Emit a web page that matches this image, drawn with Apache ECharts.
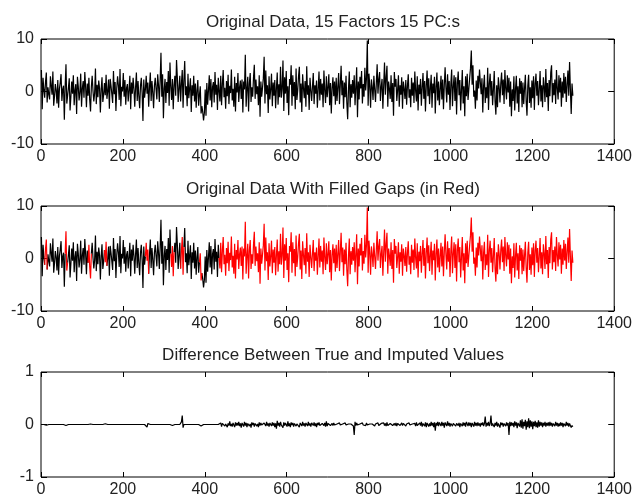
<!DOCTYPE html>
<html>
<head>
<meta charset="utf-8">
<script src="https://cdn.jsdelivr.net/npm/echarts@6/dist/echarts.min.js"></script>
<style>
  html, body { margin: 0; padding: 0; background: #fff; }
  #chart { width: 635px; height: 502px; }
</style>
</head>
<body>
<div id="chart"></div>
<script>
// sample positions: x = xStart + xStep * i
const xStart = 1
const xStep = 2

// original series
const original = [
  4.1, -3.4, 2.6, 0.3, -1.2, 1.8, 3.6, -2.1, 0.8, -0.5, -1.5, 2.9, 1.1, -0.6, 3.8, -2.7, -0.9, 1.4, 0.2, -2.3,
  2.2, -3.1, 0.5, 1.7, 3.3, -1.8, 0.4, 1.1, -5.4, 0.9, 5.2, -2.3, -0.8, 0.7, 2.5, -3.6, -1.0, 1.9, -0.4, 3.1,
  -2.6, 0.2, 1.4, -4.3, 2.8, 1.0, -1.7, -0.2, 3.4, -2.9, 0.6, 2.0, -1.2, 3.7, 0.8, -3.0, 1.5, -0.8, 2.6, -1.6,
  -3.8, 0.9, 3.0, 0.1, -1.9, -0.3, 4.4, -2.4, 1.3, -1.1, 2.1, 0.6, -4.0, 0.4, 2.7, -2.0, -0.6, 1.6, -0.7, 3.2,
  -1.4, 0.1, 2.3, -3.3, 2.4, 1.1, -0.5, -2.2, 3.9, -0.5, 1.8, -3.7, 0.6, 2.9, 1.2, -1.6, 4.3, -2.8, 0.9, 0.0,
  3.5, -1.0, 2.2, -2.5, 0.7, 1.4, -1.9, 0.3, 3.0, -3.4, 1.7, -0.4, 2.6, 0.5, -2.9, 0.8, 3.6, -1.8, 2.0, -0.9,
  -3.2, 1.1, 2.6, -0.3, -5.6, 2.3, -1.2, 0.4, 3.0, -0.4, 1.7, -2.9, 0.8, 3.6, -1.8, 2.0, -0.2, -3.2, 1.1, 2.6,
  0.5, -1.5, 3.3, 1.2, -2.0, 2.1, 7.4, -1.0, 3.3, -5.1, 0.5, 2.4, -2.2, 1.8, -0.3, 3.9, -2.7, 5.5, 0.9, -1.6,
  2.4, -3.4, 1.2, 3.0, -0.8, 6.0, 2.7, -2.0, 0.6, 3.0, -1.9, 1.5, 4.1, -3.1, 2.2, 5.8, -0.7, 1.0, -2.8, 3.4,
  -1.3, 0.6, 2.5, -3.9, 1.2, -0.8, 3.0, -1.9, 1.5, -3.1, 0.2, 2.2, -2.7, -0.7, 1.0, -4.2, -2.8, -3.9, -5.5, -4.1,
  0.4, -4.6, 1.6, -2.5, 0.2, 3.1, -1.7, 2.4, -3.0, 0.9, 1.8, -2.1, 3.7, -0.6, 1.3, -3.5, 2.6, 0.1, -1.9, 3.0,
  -2.6, 1.4, 4.1, -1.1, 0.7, -3.3, 2.0, -0.9, 3.2, -2.4, 1.1, -0.3, 4.2, -1.7, 0.5, -2.9, 2.8, -3.8, 1.6, -0.2,
  3.5, -2.0, 0.8, 2.1, -1.4, 2.3, -4.0, 1.9, 0.4, 7.0, -2.9, 0.5, 2.8, -3.8, 1.6, 3.5, -2.0, 0.8, -1.0, 2.6,
  5.1, -1.4, 2.3, -0.5, 1.0, -2.6, 3.1, -4.8, 1.9, -1.0, 0.7, 2.5, 6.6, -2.3, 4.0, -0.5, 1.2, -4.1, 2.9, -1.5,
  0.4, 3.4, -2.8, 1.7, -0.8, 2.2, -3.2, 0.6, 3.6, -2.5, 1.4, -1.1, 4.7, -1.2, 0.6, 5.9, -3.7, 2.7, -0.4, 3.9,
  -2.2, 1.0, -4.5, 2.4, 1.3, 5.0, -2.7, 3.1, -0.9, 1.8, -3.4, 4.4, -1.6, 0.2, 2.9, 4.7, -2.1, 1.5, -3.9, 3.3,
  0.7, -1.3, 2.0, -2.9, 4.8, -0.6, 1.2, -3.5, 2.6, 0.3, -1.8, 0.9, 3.5, -2.4, 1.2, -0.4, 2.1, -3.1, 0.5, 3.8,
  -1.7, 2.4, -0.6, 1.5, -3.0, 4.0, 0.2, -2.2, 2.9, -1.1, 0.8, 3.3, -2.6, 1.6, -4.2, 0.6, 2.7, -0.9, 1.9, -2.5,
  2.6, -1.8, 0.9, 3.5, -2.4, 1.2, 4.9, -0.7, 2.1, -3.3, 1.7, -1.1, 3.0, -2.2, -5.3, 0.5, 3.8, -3.0, 1.4, -1.2,
  2.2, -0.4, 3.1, -2.6, 0.8, 4.6, -4.9, 1.9, -1.5, 2.8, 0.6, 3.9, -2.3, 1.4, -1.0, 4.5, 0.2, 2.6, 9.7, -2.7,
  3.4, 1.1, -3.1, 2.3, 0.8, -1.6, 3.0, 0.4, -2.0, 1.6, 5.2, -0.4, 2.3, 3.7, -1.8, 0.9, 2.4, -3.3, 1.2, 5.5,
  -0.6, 2.7, 4.9, -2.9, 1.9, 0.5, -1.4, 3.1, -2.0, 1.6, -4.6, 3.7, 0.9, 2.4, -1.8, 0.3, 3.1, -2.9, 1.2, -0.6,
  2.7, -3.3, 1.9, 0.5, -1.4, 2.2, -2.5, 1.0, 3.3, -1.2, 0.4, -3.0, 2.6, -0.8, 1.7, -2.2, 3.8, 0.1, -1.9, 2.9,
  -3.6, 1.3, -0.5, 2.4, -2.7, 0.8, 3.5, -1.4, 2.0, -3.8, 1.1, 4.0, -0.9, 2.5, -2.4, 0.6, 3.2, -3.1, 1.5, -0.3,
  2.8, -4.2, 0.9, 3.6, -1.7, 1.9, -2.6, 0.4, 3.0, -1.5, 2.3, -3.4, 1.2, 4.6, 0.7, -2.1, 3.3, -0.6, 2.0, -3.5,
  1.4, 4.2, -2.8, 0.9, 3.1, -1.8, 2.7, -4.4, 1.6, 3.8, -0.7, 2.2, -3.6, 0.3, 4.1, -2.3, 1.0, -4.7, 2.9, -0.9,
  3.4, -1.6, 0.5, 2.6, 4.4, 7.8, 1.3, 5.0, -1.0, 0.2, -3.3, 2.1, -1.7, 3.0, 0.6, 4.2, 1.8, -0.5, 2.5, -4.0,
  1.1, 3.2, -2.2, 0.8, -1.3, 4.5, -3.5, 1.5, 3.4, -0.8, 2.0, -2.6, 0.4, 3.9, -1.9, -4.4, 1.2, -3.0, 2.7, 0.9,
  -2.1, 1.6, 3.6, -0.7, 2.3, -2.4, 4.1, 0.6, -1.5, 3.1, -0.2, 2.6, -2.9, 1.9, -4.7, 0.4, -1.8, 2.9, -3.6, 0.5,
  3.0, -2.3, 1.0, -3.9, 2.5, -0.4, 2.0, -3.0, 1.7, -2.4, 0.6, 3.2, -1.9, -4.6, 1.1, 3.2, -2.2, 0.8, -3.1, 2.1,
  -1.3, 2.9, -3.5, 1.5, 3.4, -0.8, 2.0, -2.6, 0.4, 3.9, -1.9, 1.2, -3.0, 2.7, 0.9, -2.0, 4.3, -1.1, 1.6, -3.7,
  2.2, -0.9, 3.6, 5.0, -2.1, 1.6, -0.7, 2.3, -2.4, 4.1, 0.6, -1.5, 3.1, -0.2, 2.6, -2.9, 1.9, -1.2, 3.5, -0.4,
  2.8, -2.0, 1.3, 4.0, -0.8, 5.6, 0.4, -4.3, 1.5, -0.8
]

// x ranges that were missing and got imputed (shown red)
const gapRanges = [[10, 14], [60, 64], [116, 122], [156, 160], [256, 262], [318, 324], [342, 348], [388, 392], [436, 1300]]

// true minus imputed
const difference = [
  0, 0, 0, 0, 0, 0.02, -0.015, 0, 0, 0, 0, 0, 0, 0, 0, 0, 0, 0, 0, 0,
  0, 0, 0, 0, 0, 0, 0, 0, 0, 0, -0.02, 0.01, 0, 0, 0, 0, 0, 0, 0, 0,
  0, 0, 0, 0, 0, 0, 0, 0, 0, 0, 0, 0, 0, 0, 0, 0, 0, 0, 0.015, -0.02,
  0.01, 0, 0, 0, 0, 0, 0, 0, 0, 0, 0, 0, 0, 0, 0, 0, 0, 0, 0.015, -0.02,
  0, 0, 0, 0, 0, 0, 0, 0, 0, 0, 0, 0, 0, 0, 0, 0, 0, 0, 0, 0,
  0, 0, 0, 0, 0, 0, 0, 0, 0, 0, 0, 0, 0, 0, 0, 0, 0, 0, 0, 0,
  0, 0, 0, 0, 0, 0, 0, 0, 0.03, -0.05, 0.02, 0, 0, 0, 0, 0, 0, 0, 0, 0,
  0, 0, 0, 0, 0, 0, 0, 0, 0, 0, 0, 0, 0, 0, 0, 0, 0, 0, 0, 0.02,
  -0.02, 0.01, 0, 0, 0, 0, 0, 0, 0, 0, 0, 0.05, 0.17, -0.06, 0, 0, 0, 0, 0, 0,
  0, 0, 0, 0, 0, 0, 0, 0, 0, 0, 0, 0, 0, 0, 0.02, -0.03, 0, 0, 0, 0,
  0, 0, 0, 0, 0, 0, 0, 0, 0, 0, 0, 0, 0, 0, 0, 0, 0, 0, 0.02, 0.03,
  -0.04, 0.02, -0.01, 0.05, -0.03, 0.01, 0.04, -0.05, 0.02, -0.02, 0.06, -0.03, 0.01, -0.04, 0.03, 0.00, -0.05, 0.04, -0.02, 0.03,
  -0.02, 0.05, -0.03, 0.02, -0.06, 0.03, 0.01, -0.04, 0.05, -0.02, 0.03, -0.05, 0.02, 0.04, -0.03, 0.01, -0.06, 0.04, -0.01, 0.03,
  -0.04, 0.02, 0.05, -0.03, 0.01, -0.05, 0.04, -0.02, 0.03, -0.01, 0.02, -0.04, 0.03, 0.01, -0.03, 0.05, -0.02, 0.02, -0.04, 0.03,
  0.01, -0.03, 0.04, -0.02, 0.03, -0.05, 0.02, -0.08, 0.07, -0.02, 0.03, -0.04, 0.05, -0.01, 0.02, -0.06, 0.04, -0.02, 0.03, 0.01,
  -0.04, 0.06, -0.03, 0.02, -0.05, 0.04, -0.01, 0.03, -0.04, 0.02, 0.05, -0.03, 0.01, -0.02, 0.04, -0.05, 0.03, 0.00, -0.03, 0.05,
  -0.02, 0.02, -0.04, 0.03, 0.01, -0.03, 0.05, -0.02, 0.02, -0.04, 0.03, 0.01, -0.02, 0.04, -0.03, 0.02, -0.05, 0.03, -0.01, 0.04,
  -0.02, 0.01, -0.03, 0.02, 0.04, -0.02, 0.03, -0.04, 0.06, -0.03, 0.02, -0.01, 0.03, -0.02, 0.01, 0.02, -0.02, 0.03, -0.01, 0.02,
  -0.03, 0.01, 0.02, -0.02, 0.03, -0.01, 0.02, -0.03, 0.01, 0.02, -0.02, 0.03, -0.01, 0.02, -0.02, 0.01, 0.03, -0.02, 0.01, -0.01,
  0.02, -0.03, -0.20, 0.05, -0.02, 0.03, -0.01, 0.02, -0.03, 0.01, 0.02, -0.02, 0.03, -0.01, 0.02, 0.00, -0.02, 0.03, -0.01, 0.02,
  -0.02, 0.01, 0.03, -0.02, 0.01, -0.01, 0.02, -0.03, 0.01, 0.02, -0.01, 0.03, -0.02, 0.01, -0.02, 0.02, 0.00, -0.01, 0.03, -0.02,
  0.02, -0.03, 0.04, -0.02, 0.01, -0.03, 0.02, -0.01, 0.03, -0.02, 0.01, 0.02, -0.02, 0.03, -0.03, 0.02, -0.01, 0.02, -0.02, 0.01,
  0.03, -0.02, 0.02, -0.01, 0.02, -0.03, 0.01, 0.02, -0.02, 0.03, -0.01, 0.02, -0.02, 0.01, 0.03, -0.02, 0.02, -0.03, 0.04, -0.02,
  0.01, -0.03, 0.03, -0.02, 0.05, -0.04, 0.02, 0.01, -0.03, 0.04, -0.05, 0.03, 0.06, -0.04, 0.02, -0.03, 0.05, -0.02, 0.03, -0.05,
  0.04, -0.12, 0.03, -0.02, 0.05, -0.03, 0.04, 0.02, -0.03, 0.05, -0.02, 0.03, -0.06, 0.04, 0.01, -0.03, 0.06, -0.02, 0.03, -0.04,
  0.02, 0.05, -0.03, 0.02, -0.01, 0.04, -0.03, 0.02, 0.04, -0.02, 0.03, -0.05, 0.02, 0.01, -0.03, 0.04, -0.02, 0.03, -0.04, 0.05,
  0.02, -0.03, 0.04, -0.02, 0.03, -0.05, 0.03, 0.01, -0.04, 0.05, -0.02, 0.03, -0.03, 0.04, -0.02, 0.02, -0.04, 0.03, -0.01, 0.04,
  -0.03, 0.02, 0.15, -0.04, 0.03, -0.02, 0.05, -0.03, 0.02, 0.17, -0.03, 0.02, 0.04, -0.05, 0.03, -0.02, 0.05, -0.04, 0.02, 0.03,
  -0.06, 0.04, -0.01, 0.03, -0.04, 0.02, 0.05, -0.03, 0.04, -0.02, 0.03, -0.20, 0.05, -0.03, 0.04, -0.02, 0.03, -0.05, 0.06, -0.02,
  0.04, -0.07, 0.03, 0.05, -0.04, 0.08, -0.06, 0.10, -0.08, 0.05, -0.03, 0.09, -0.10, 0.06, -0.05, 0.12, -0.07, 0.08, -0.04, 0.06,
  -0.09, 0.05, -0.03, 0.07, -0.05, 0.04, -0.06, 0.08, -0.04, 0.05, -0.02, 0.04, -0.05, 0.03, -0.02, 0.05, -0.04, 0.03, -0.02, 0.04,
  -0.03, 0.05, -0.02, 0.03, -0.04, 0.02, 0.04, -0.03, 0.05, -0.02, 0.03, -0.04, 0.02, -0.03, 0.04, -0.02, 0.03, -0.05, 0.02, 0.04,
  -0.03, 0.05, -0.02, 0.03, -0.04, 0.02, 0.03, -0.06, -0.02, -0.04
]

const titles = [
  'Original Data, 15 Factors 15 PC:s',
  'Original Data With Filled Gaps (in Red)',
  'Difference Between True and Imputed Values'
]
const yRanges = [[-10, 10, 10], [-10, 10, 10], [-1, 1, 1]]
const gridTops = [39, 206, 372]

const chart = echarts.init(document.getElementById('chart'))

const xOf = i => xStart + xStep * i
const inGap = x => gapRanges.some(r => x >= r[0] && x <= r[1])

const origPts = original.map((v, i) => [xOf(i), v])
const observedPts = original.map((v, i) => [xOf(i), inGap(xOf(i)) ? null : v])
// red runs through each gap and joins the observed points either side
const filledPts = original.map((v, i) => {
  const x = xOf(i)
  const near = inGap(x) || inGap(xOf(i - 1)) || inGap(xOf(i + 1))
  return [x, near ? v : null]
})
const diffPts = difference.map((v, i) => [xOf(i), v])

const font = 'Arial, "Liberation Sans", Helvetica, sans-serif'
const grids = [], xAxes = [], yAxes = [], titleList = []

gridTops.forEach((top, k) => {
  grids.push({
    left: 41, right: 19, top: top, height: 105,
    show: true, borderColor: '#000', borderWidth: 1, backgroundColor: '#fff'
  })
  titleList.push({
    text: titles[k], left: 328, top: top - 30, textAlign: 'center',
    textStyle: { fontFamily: font, fontSize: 17, fontWeight: 'normal', color: '#222' }
  })
  ;['bottom', 'top'].forEach(pos => {
    xAxes.push({
      type: 'value', gridIndex: k, position: pos, min: 0, max: 1400, interval: 200,
      axisLine: { show: false, onZero: false },
      axisTick: { show: true, inside: true, length: 5, lineStyle: { color: '#000' } },
      axisLabel: {
        show: pos === 'bottom', margin: 5, color: '#222', fontFamily: font, fontSize: 16,
        formatter: v => String(v)
      },
      splitLine: { show: false }
    })
  })
  ;['left', 'right'].forEach(pos => {
    yAxes.push({
      type: 'value', gridIndex: k, position: pos,
      min: yRanges[k][0], max: yRanges[k][1], interval: yRanges[k][2],
      axisLine: { show: false, onZero: false },
      axisTick: { show: true, inside: true, length: 6, lineStyle: { color: '#000' } },
      axisLabel: { show: pos === 'left', margin: 7, color: '#222', fontFamily: font, fontSize: 16 },
      splitLine: { show: false }
    })
  })
})

const lineSeries = (color) => ({
  type: 'line', showSymbol: false, symbol: 'none', animation: false, connectNulls: false,
  lineStyle: { color: color, width: 1.2 }, itemStyle: { color: color }
})

const option = {
  backgroundColor: '#fff',
  animation: false,
  title: titleList,
  grid: grids,
  xAxis: xAxes,
  yAxis: yAxes,
  series: [
    Object.assign(lineSeries('#000'), { xAxisIndex: 0, yAxisIndex: 0, data: origPts }),
    Object.assign(lineSeries('#000'), { xAxisIndex: 2, yAxisIndex: 2, data: observedPts }),
    Object.assign(lineSeries('#ff0000'), { xAxisIndex: 2, yAxisIndex: 2, data: filledPts }),
    Object.assign(lineSeries('#000'), { xAxisIndex: 4, yAxisIndex: 4, data: diffPts })
  ]
}
chart.setOption(option)
</script>
</body>
</html>
